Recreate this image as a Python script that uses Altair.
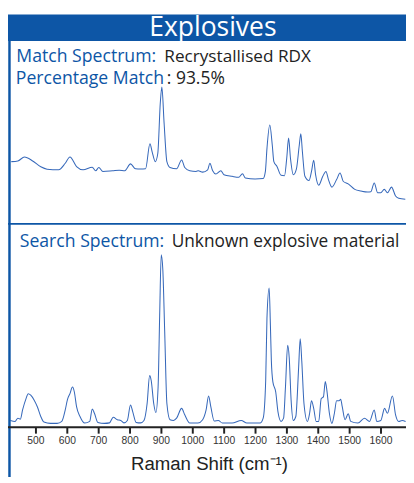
import altair as alt
import pandas as pd

# ---- data (Raman shift in cm-1, intensity in arbitrary units) ----
match_shift = [423, 444, 465, 491, 517, 537, 574, 595, 610, 631, 652, 681, 692, 702, 715, 746, 767, 785,
               803, 819, 835, 851, 865, 872, 882, 890, 898, 903, 910, 919, 929, 950, 966, 976, 992, 1012,
               1019, 1033, 1049, 1056, 1065, 1075, 1091, 1101, 1127, 1148, 1160, 1169, 1200, 1226, 1233,
               1238, 1247, 1255, 1260, 1270, 1283, 1294, 1301, 1307, 1313, 1322, 1332, 1341, 1346, 1351,
               1359, 1372, 1380, 1387, 1393, 1403, 1416, 1426, 1434, 1445, 1460, 1471, 1481, 1497, 1518,
               1538, 1559, 1569, 1580, 1591, 1601, 1612, 1622, 1635, 1648, 1658, 1679]
match_int = [40, 40.7, 44.7, 40.7, 34.7, 32.3, 31.7, 38.3, 44.7, 35, 31.7, 34.3, 30.7, 34, 30, 30.7, 31.3, 30.7,
             37.7, 32.7, 32.5, 32.7, 58.3, 50, 40, 48.3, 100, 116, 80, 40, 34, 32.7, 41.7, 34, 30.7, 30,
             30.7, 29.3, 31.7, 38.3, 30.7, 27.3, 30.7, 26.7, 25, 24, 27.7, 23.3, 22.3, 22.7, 30,
             53.3, 77.3, 56.7, 40, 35, 26, 25.7, 43.3, 64, 43.3, 26.7, 32.7, 56.7, 68.3, 50,
             25, 20.7, 30, 41.3, 26.7, 16, 25, 30, 21.7, 14, 21.7, 28.3, 20, 17.3, 11.7,
             10, 9, 9.3, 18.3, 8.3, 8.3, 11.7, 8.3, 14, 5, 2.7, 1.7]

search_shift = [420, 435, 444, 452, 459, 470, 477, 485, 496, 506, 517, 527, 548, 569, 584, 595, 602, 610,
                618, 624, 631, 642, 657, 673, 681, 688, 699, 720, 736, 748, 761, 772, 782, 793, 803, 810,
                821, 835, 846, 856, 864, 869, 877, 884, 891, 896, 901, 906, 912, 919, 929, 940, 950, 966,
                976, 992, 1018, 1033, 1044, 1052, 1059, 1070, 1083, 1096, 1127, 1156, 1174, 1216, 1226,
                1234, 1238, 1245, 1249, 1252, 1257, 1266, 1273, 1283, 1291, 1297, 1304, 1309, 1315, 1322,
                1330, 1339, 1344, 1349, 1356, 1367, 1374, 1380, 1387, 1395, 1403, 1411, 1418, 1424, 1429,
                1437, 1445, 1453, 1460, 1468, 1473, 1478, 1487, 1497, 1505, 1528, 1549, 1565, 1580, 1588,
                1601, 1613, 1622, 1638, 1648, 1658, 1669, 1680]
search_int = [3, 2, 5.3, 4.3, 13.7, 25.3, 30.3, 28.7, 23.7, 17, 7, 1.3, 0, 0, 2, 13.7, 24.3, 30.3,
              37, 32, 17, 7, 0.3, 2, 14.7, 10.3, 1, 0, 0.5, 6.3, 3.7, 3, 0.5, 3, 18.7, 12,
              1, 0.5, 3, 20.3, 48.7, 43.7, 20.3, 11, 37, 110, 172, 157, 94, 20.3, 3.7, 3, 5.3, 15.3,
              8.7, 0.3, 0.3, 3.7, 13.7, 28, 17, 2.3, 3, 0.3, 0.3, 3, 0.3, 0.3, 5.3,
              43.7, 107, 138, 100, 64, 42, 32, 12, 2, 5.3, 37, 79.7, 67, 23.7, 3,
              7, 57, 86.3, 63.7, 20.3, 2, 10.3, 23, 15.3, 2, 2, 25.3, 27, 42.7, 33.7,
              10.3, 0, 10.3, 23, 23, 24.7, 17, 3.7, 9.7, 2, 0.3, 5.3, 2, 13.7, 2,
              3, 15.3, 10.3, 28, 8.7, 2, 3, 2]

tick_values = [500, 600, 700, 800, 900, 1000, 1100, 1200, 1300, 1400, 1500, 1600]

banner_title = "Explosives"
match_label = "Match Spectrum:"
match_name = "Recrystallised RDX"
pct_label = "Percentage Match"
pct_value = ": 93.5%"
search_label = "Search Spectrum:"
search_name = "Unknown explosive material"
x_title = "Raman Shift (cm\u207b\u00b9)"

BLUE = "#0d56a6"
LINE = "#3668ba"
DARK = "#222222"
FONT = "Open Sans"

W, H = 404, 394
XDOM = [418.75, 1681.25]

match_df = pd.DataFrame({"shift": match_shift, "intensity": match_int})
search_df = pd.DataFrame({"shift": search_shift, "intensity": search_int})
one = pd.DataFrame({"k": [0]})

x_axis = alt.Axis(values=tick_values, format="d", domain=False, grid=False, tickColor=DARK, tickWidth=2,
                  tickSize=6, labelFont="Liberation Sans", labelFontSize=10.5, labelColor="#333333",
                  labelPadding=3, title=x_title, titleFont="Liberation Sans", titleFontSize=19,
                  titleFontWeight="normal", titleColor=DARK, titleX=203, titleY=43,
                  titleBaseline="alphabetic", titleAlign="center")
x_scale = alt.Scale(domain=XDOM, nice=False, zero=False)

top = alt.Chart(match_df).mark_line(color=LINE, strokeWidth=1.05, interpolate="monotone").encode(
    x=alt.X("shift:Q", scale=x_scale, axis=x_axis),
    y=alt.Y("intensity:Q", scale=alt.Scale(domain=[-231, 163], nice=False, zero=False), axis=None),
)

bottom = alt.Chart(search_df).mark_line(color=LINE, strokeWidth=1.05, interpolate="monotone").encode(
    x=alt.X("shift:Q", scale=x_scale, axis=x_axis),
    y=alt.Y("intensity:Q", scale=alt.Scale(domain=[-4, 390], nice=False, zero=False), axis=None),
)

base = alt.Chart(one)

banner = base.mark_rect(color=BLUE).encode(
    x=alt.value(-2), x2=alt.value(W), y=alt.value(-27), y2=alt.value(0))
banner_text = base.mark_text(text=banner_title, font=FONT, fontSize=27, color="white",
                             align="center", baseline="alphabetic").encode(
    x=alt.value(207), y=alt.value(-5))

left_line = base.mark_rule(color=BLUE, strokeWidth=2.5).encode(
    x=alt.value(-0.5), y=alt.value(0), y2=alt.value(446))
divider = base.mark_rule(color=BLUE, strokeWidth=2).encode(
    x=alt.value(-2), x2=alt.value(W), y=alt.value(186.5))
axis_line = base.mark_rule(color=DARK, strokeWidth=2).encode(
    x=alt.value(-3), x2=alt.value(W), y=alt.value(394))


def label(txt, x, y, color, size):
    return base.mark_text(text=txt, font=FONT, fontSize=size, color=color,
                          align="left", baseline="alphabetic").encode(x=alt.value(x), y=alt.value(y))


texts = [
    label(match_label, 6.5, 21.5, BLUE, 18),
    label(match_name, 157.5, 21.5, DARK, 17.5),
    label(pct_label, 6, 44, BLUE, 18),
    label(pct_value, 160, 44, DARK, 17.8),
    label(search_label, 10, 210, BLUE, 18),
    label(search_name, 165, 210, DARK, 17.6),
]

chart = alt.layer(top, bottom, banner, banner_text, left_line, divider, axis_line, *texts).resolve_scale(
    y="independent"
).properties(
    width=W, height=H, autosize=alt.AutoSizeParams(type="none"),
    padding={"left": 2, "top": 29, "right": 0, "bottom": 46},
    background="white",
).configure_view(stroke=None)

chart.save("out.html", embed_options={"renderer": "svg", "actions": False})
